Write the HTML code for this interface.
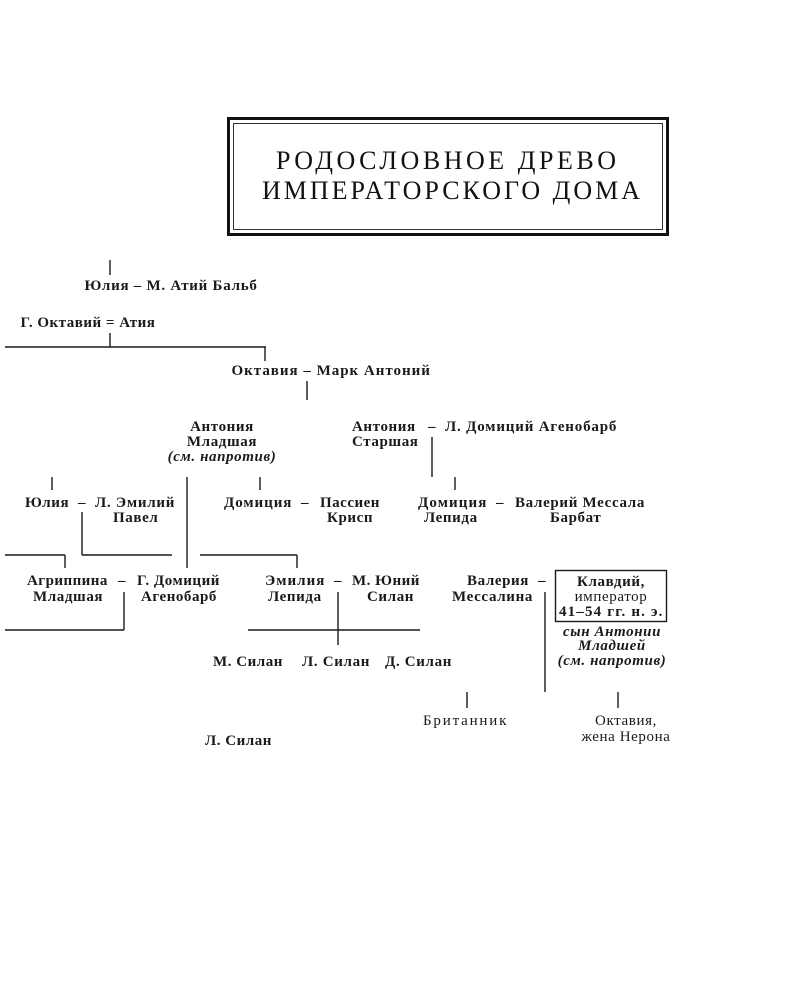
<!DOCTYPE html>
<html><head><meta charset="utf-8"><style>
html,body{margin:0;padding:0;background:#fff;}
svg{display:block}
text{font-family:"Liberation Serif","DejaVu Serif",serif;font-size:15px;font-weight:bold;fill:#1a1a1a;letter-spacing:0.6px}
.i{font-style:italic}
.t{font-size:26px;font-weight:normal;letter-spacing:2px;fill:#111}
line{stroke:#1a1a1a;stroke-width:1.4}
</style></head><body>
<svg width="800" height="1000" viewBox="0 0 800 1000">
<rect x="228.5" y="118.5" width="439" height="116" fill="none" stroke="#111" stroke-width="3"/>
<rect x="233.5" y="123.5" width="429" height="106" fill="none" stroke="#333" stroke-width="1"/>
<text class="t" x="447" y="169" text-anchor="middle" textLength="342">РОДОСЛОВНОЕ ДРЕВО</text>
<text class="t" x="452" y="199" text-anchor="middle" textLength="380">ИМПЕРАТОРСКОГО ДОМА</text>

<line x1="110" y1="260" x2="110" y2="275"/>
<text x="171" y="290" text-anchor="middle" textLength="173">Юлия – М. Атий Бальб</text>
<text x="88" y="327" text-anchor="middle" textLength="135">Г. Октавий = Атия</text>
<line x1="110" y1="333" x2="110" y2="347"/>
<line x1="5" y1="347" x2="266" y2="347"/>
<line x1="265" y1="347" x2="265" y2="361"/>
<text x="331" y="375" text-anchor="middle" textLength="199">Октавия  –  Марк Антоний</text>
<line x1="307" y1="381" x2="307" y2="400"/>

<text x="222" y="431" text-anchor="middle">Антония</text>
<text x="222" y="446" text-anchor="middle">Младшая</text>
<text class="i" x="222" y="461" text-anchor="middle">(см. напротив)</text>
<text x="352" y="431">Антония</text>
<text x="352" y="446">Старшая</text>
<text x="432" y="431" text-anchor="middle">–</text>
<text x="445" y="431" textLength="172">Л. Домиций Агенобарб</text>
<line x1="432" y1="437" x2="432" y2="477"/>

<line x1="52" y1="477" x2="52" y2="490"/>
<line x1="260" y1="477" x2="260" y2="490"/>
<line x1="455" y1="477" x2="455" y2="490"/>
<line x1="187" y1="477" x2="187" y2="568"/>

<text x="25" y="507">Юлия</text>
<text x="82" y="507" text-anchor="middle">–</text>
<text x="95" y="507" textLength="80">Л. Эмилий</text>
<text x="113" y="522">Павел</text>
<line x1="82" y1="512" x2="82" y2="555"/>

<text x="224" y="507" textLength="68">Домиция</text>
<text x="305" y="507" text-anchor="middle">–</text>
<text x="320" y="507" textLength="60">Пассиен</text>
<text x="327" y="522">Крисп</text>

<text x="418" y="507" textLength="69">Домиция</text>
<text x="424" y="522">Лепида</text>
<text x="500" y="507" text-anchor="middle">–</text>
<text x="515" y="507" textLength="130">Валерий Мессала</text>
<text x="550" y="522">Барбат</text>

<line x1="5" y1="555" x2="65" y2="555"/>
<line x1="65" y1="555" x2="65" y2="568"/>
<line x1="82" y1="555" x2="172" y2="555"/>
<line x1="200" y1="555" x2="297" y2="555"/>
<line x1="297" y1="555" x2="297" y2="568"/>

<text x="27" y="585" textLength="81">Агриппина</text>
<text x="33" y="601">Младшая</text>
<text x="122" y="585" text-anchor="middle">–</text>
<text x="137" y="585" textLength="83">Г. Домиций</text>
<text x="141" y="601" textLength="76">Агенобарб</text>
<line x1="124" y1="592" x2="124" y2="630"/>
<line x1="5" y1="630" x2="124" y2="630"/>

<text x="265" y="585" textLength="60">Эмилия</text>
<text x="268" y="601">Лепида</text>
<text x="338" y="585" text-anchor="middle">–</text>
<text x="352" y="585" textLength="68">М. Юний</text>
<text x="367" y="601">Силан</text>
<line x1="338" y1="592" x2="338" y2="645"/>
<line x1="248" y1="630" x2="420" y2="630"/>
<text x="213" y="666" textLength="70">М. Силан</text>
<text x="302" y="666" textLength="68">Л. Силан</text>
<text x="385" y="666" textLength="67">Д. Силан</text>
<text x="205" y="745" textLength="67">Л. Силан</text>

<text x="467" y="585">Валерия</text>
<text x="452" y="601" textLength="81">Мессалина</text>
<text x="542" y="585" text-anchor="middle">–</text>
<line x1="545" y1="592" x2="545" y2="692"/>
<rect x="555.5" y="570.5" width="111" height="51" fill="none" stroke="#1a1a1a" stroke-width="1.4"/>
<text x="611" y="586" text-anchor="middle">Клавдий,</text>
<text x="611" y="601" text-anchor="middle" style="font-weight:normal">император</text>
<text x="611" y="616" text-anchor="middle" textLength="104">41–54 гг. н. э.</text>
<text class="i" x="612" y="636" text-anchor="middle">сын Антонии</text>
<text class="i" x="612" y="650" text-anchor="middle">Младшей</text>
<text class="i" x="612" y="665" text-anchor="middle">(см. напротив)</text>

<line x1="467" y1="692" x2="467" y2="708"/>
<text x="465" y="725" text-anchor="middle" style="font-weight:normal" textLength="84">Британник</text>
<line x1="618" y1="692" x2="618" y2="708"/>
<text x="626" y="725" text-anchor="middle" style="font-weight:normal">Октавия,</text>
<text x="626" y="741" text-anchor="middle" style="font-weight:normal">жена Нерона</text>
</svg>
</body></html>
